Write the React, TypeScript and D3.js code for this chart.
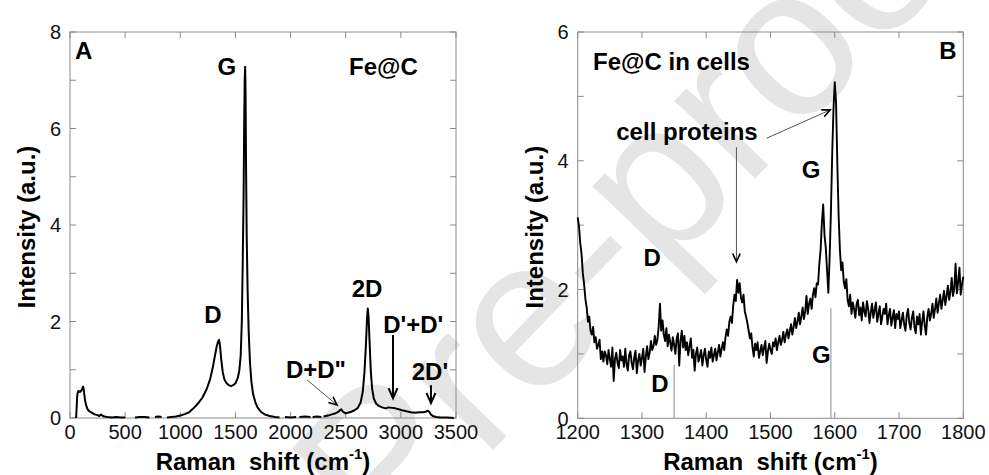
import React from "react";
import * as d3 from "d3";

// ---------- Data ----------
// Panel A: Fe@C Raman spectrum (x: Raman shift cm-1, y: intensity); null = gap in trace
const specA: [number, number | null][] = [
  [55, 0], [60, 0.2], [65, 0.45], [72, 0.55], [80, 0.56], [90, 0.54], [100, 0.56], [110, 0.6], [118, 0.65],
  [124, 0.6], [130, 0.48], [138, 0.35], [148, 0.25], [160, 0.18], [175, 0.14], [190, 0.12], [210, 0.09],
  [230, 0.07], [250, 0.06], [265, 0.04], [280, 0.07], [295, 0.05], [310, 0.03], [340, 0.02], [380, 0.01],
  [420, 0.02], [460, 0.01], [500, 0.01], [540, null],
  [590, 0.01], [630, 0.02], [680, 0.02], [720, 0.01], [745, null],
  [770, 0.02], [800, 0.03], [830, 0.02], [850, null],
  [880, 0.01], [920, 0.02], [960, 0.03], [1000, 0.05], [1040, 0.08], [1080, 0.12], [1120, 0.2], [1160, 0.3],
  [1200, 0.42], [1240, 0.6], [1270, 0.8], [1295, 1.05], [1315, 1.3], [1330, 1.48], [1345, 1.6], [1352, 1.62],
  [1360, 1.5], [1372, 1.2], [1385, 0.95], [1400, 0.8], [1420, 0.72], [1440, 0.68], [1460, 0.66], [1480, 0.68],
  [1500, 0.72], [1520, 0.82], [1535, 0.98], [1548, 1.3], [1558, 2.0], [1566, 3.2], [1574, 4.6], [1580, 6.2],
  [1584, 7.0], [1588, 7.28], [1592, 6.7], [1596, 5.3], [1602, 3.8], [1610, 2.7], [1620, 1.8], [1632, 1.15],
  [1645, 0.75], [1660, 0.5], [1680, 0.33], [1700, 0.22], [1730, 0.13], [1770, 0.07], [1810, 0.04], [1860, 0.02],
  [1900, 0.01], [1925, null],
  [1950, 0.02], [2000, 0.01], [2050, 0.02], [2065, null],
  [2080, 0.02], [2130, 0.03], [2180, 0.02], [2190, null],
  [2200, 0.02], [2240, 0.03], [2280, 0.02], [2290, null],
  [2300, 0.03], [2340, 0.05], [2380, 0.08], [2410, 0.1], [2435, 0.13], [2450, 0.17], [2460, 0.18], [2475, 0.13],
  [2495, 0.1], [2520, 0.11], [2550, 0.13], [2580, 0.16], [2610, 0.21], [2635, 0.32], [2655, 0.55], [2670, 0.95],
  [2683, 1.5], [2693, 2.05], [2700, 2.27], [2707, 2.1], [2716, 1.6], [2728, 0.95], [2740, 0.6], [2755, 0.4],
  [2775, 0.3], [2800, 0.25], [2830, 0.22], [2860, 0.2], [2890, 0.22], [2920, 0.21], [2950, 0.2], [2980, 0.18],
  [3010, 0.16], [3050, 0.14], [3090, 0.12], [3130, 0.11], [3170, 0.12], [3200, 0.12], [3225, 0.13], [3245, 0.15],
  [3258, 0.13], [3270, 0.08], [3290, 0.04], [3320, 0.02], [3360, 0.01], [3420, 0.01], [3480, 0.0],
];

// Panel B: Fe@C in cells Raman spectrum (noisy)
const specB: [number, number][] = [
  [1200, 3.12], [1202, 2.98], [1204, 2.72], [1206, 2.55], [1208, 2.25], [1210, 2.08], [1212, 1.85], [1214, 1.72],
  [1216, 1.5], [1218, 1.58], [1220, 1.36], [1222, 1.3], [1224, 1.42], [1226, 1.18], [1228, 1.26], [1230, 1.08],
  [1232, 1.14], [1234, 1.22], [1236, 0.92], [1238, 1.04], [1240, 0.88], [1242, 1.04], [1244, 0.98], [1246, 0.84],
  [1248, 1.06], [1250, 0.92], [1252, 0.8], [1254, 1.1], [1256, 0.58], [1258, 0.92], [1260, 1.02], [1262, 0.86],
  [1264, 0.78], [1266, 1.06], [1268, 0.9], [1270, 0.96], [1272, 0.8], [1274, 1.08], [1276, 0.84], [1278, 0.74],
  [1280, 0.98], [1282, 1.04], [1284, 0.86], [1286, 0.76], [1288, 0.95], [1290, 1.05], [1292, 0.7], [1294, 0.9],
  [1296, 1.0], [1298, 0.82], [1300, 0.94], [1302, 1.08], [1304, 0.72], [1306, 0.96], [1308, 1.12], [1310, 0.92],
  [1312, 1.02], [1314, 1.2], [1316, 1.06], [1318, 1.12], [1320, 1.28], [1322, 1.14], [1324, 1.22], [1326, 1.42],
  [1328, 1.78], [1330, 1.36], [1332, 1.52], [1334, 1.3], [1336, 1.2], [1338, 1.4], [1340, 1.12], [1342, 1.3],
  [1344, 1.18], [1346, 1.05], [1348, 1.26], [1350, 1.14], [1352, 1.0], [1354, 1.24], [1356, 1.32], [1358, 0.82],
  [1360, 1.2], [1362, 1.36], [1364, 1.1], [1366, 1.28], [1368, 1.06], [1370, 1.18], [1372, 0.98], [1374, 1.12],
  [1376, 1.24], [1378, 0.94], [1380, 1.06], [1382, 0.74], [1384, 1.0], [1386, 1.1], [1388, 0.88], [1390, 0.96],
  [1392, 1.06], [1394, 0.82], [1396, 0.98], [1398, 1.08], [1400, 0.9], [1402, 0.8], [1404, 1.04], [1406, 0.94],
  [1408, 1.1], [1410, 0.88], [1412, 0.98], [1414, 1.08], [1416, 0.9], [1418, 1.02], [1420, 1.14], [1422, 0.96],
  [1424, 1.08], [1426, 1.18], [1428, 1.06], [1430, 1.26], [1432, 1.38], [1434, 1.28], [1436, 1.5], [1438, 1.58],
  [1440, 1.48], [1442, 1.75], [1444, 1.92], [1446, 1.82], [1448, 2.15], [1450, 1.95], [1452, 2.1], [1454, 1.88],
  [1456, 1.8], [1458, 1.92], [1460, 1.66], [1462, 1.58], [1464, 1.48], [1466, 1.36], [1468, 1.24], [1470, 1.32],
  [1472, 1.1], [1474, 0.96], [1476, 1.16], [1478, 1.06], [1480, 1.18], [1482, 0.94], [1484, 1.04], [1486, 1.14],
  [1488, 0.98], [1490, 1.1], [1492, 1.2], [1494, 0.86], [1496, 1.04], [1498, 1.16], [1500, 1.06], [1502, 1.0],
  [1504, 1.18], [1506, 1.12], [1508, 1.24], [1510, 1.06], [1512, 1.18], [1514, 1.28], [1516, 1.14], [1518, 1.22],
  [1520, 1.34], [1522, 1.18], [1524, 1.3], [1526, 1.38], [1528, 1.24], [1530, 1.36], [1532, 1.46], [1534, 1.3],
  [1536, 1.42], [1538, 1.56], [1540, 1.4], [1542, 1.5], [1544, 1.64], [1546, 1.46], [1548, 1.58], [1550, 1.72],
  [1552, 1.54], [1554, 1.66], [1556, 1.9], [1558, 1.62], [1560, 1.78], [1562, 1.86], [1564, 1.7], [1566, 1.92],
  [1568, 2.02], [1570, 1.88], [1572, 2.1], [1574, 2.08], [1576, 2.4], [1578, 2.62], [1580, 3.05], [1582, 3.32],
  [1584, 2.85], [1586, 2.65], [1588, 2.3], [1590, 1.95], [1592, 2.5], [1594, 3.2], [1596, 4.1], [1598, 4.8],
  [1600, 5.22], [1602, 4.9], [1604, 3.95], [1606, 3.15], [1608, 2.62], [1610, 2.3], [1612, 2.42], [1614, 2.12],
  [1616, 2.02], [1618, 2.16], [1620, 1.84], [1622, 1.74], [1624, 1.92], [1626, 1.62], [1628, 1.8], [1630, 1.7],
  [1632, 1.56], [1634, 1.78], [1636, 1.84], [1638, 1.6], [1640, 1.72], [1642, 1.52], [1644, 1.8], [1646, 1.66],
  [1648, 1.58], [1650, 1.82], [1652, 1.7], [1654, 1.48], [1656, 1.64], [1658, 1.78], [1660, 1.56], [1662, 1.68],
  [1664, 1.8], [1666, 1.5], [1668, 1.62], [1670, 1.74], [1672, 1.46], [1674, 1.58], [1676, 1.7], [1678, 1.62],
  [1680, 1.78], [1682, 1.46], [1684, 1.6], [1686, 1.7], [1688, 1.44], [1690, 1.56], [1692, 1.68], [1694, 1.4],
  [1696, 1.62], [1698, 1.54], [1700, 1.66], [1702, 1.4], [1704, 1.52], [1706, 1.64], [1708, 1.46], [1710, 1.36],
  [1712, 1.6], [1714, 1.7], [1716, 1.48], [1718, 1.38], [1720, 1.56], [1722, 1.66], [1724, 1.42], [1726, 1.32],
  [1728, 1.58], [1730, 1.46], [1732, 1.62], [1734, 1.3], [1736, 1.5], [1738, 1.66], [1740, 1.44], [1742, 1.3],
  [1744, 1.58], [1746, 1.7], [1748, 1.52], [1750, 1.62], [1752, 1.78], [1754, 1.56], [1756, 1.7], [1758, 1.86],
  [1760, 1.64], [1762, 1.78], [1764, 1.92], [1766, 1.7], [1768, 1.84], [1770, 1.98], [1772, 1.76], [1774, 1.9],
  [1776, 2.06], [1778, 1.84], [1780, 1.96], [1782, 2.18], [1784, 1.9], [1786, 2.02], [1788, 2.4], [1790, 1.94],
  [1792, 2.12], [1794, 2.34], [1796, 1.92], [1798, 2.08], [1800, 2.2],
];

// Axis ticks
const xTicksA = [0, 500, 1000, 1500, 2000, 2500, 3000, 3500];
const yTicksA = [0, 1, 2, 3, 4, 5, 6, 7, 8];
const yLabelsA = [0, 2, 4, 6, 8];
const xTicksB = [1200, 1300, 1400, 1500, 1600, 1700, 1800];
const yTicksB = [0, 1, 2, 3, 4, 5, 6];
const yLabelsB = [0, 2, 4, 6];

// Annotations (data coordinates)
type Lbl = { t: string; x: number; y: number; a: "start" | "middle" };
const labelsA: Lbl[] = [
  { t: "A", x: 45, y: 7.44, a: "start" },
  { t: "G", x: 1423, y: 7.11, a: "middle" },
  { t: "Fe@C", x: 2530, y: 7.11, a: "start" },
  { t: "D", x: 1297, y: 1.97, a: "middle" },
  { t: "2D", x: 2693, y: 2.51, a: "middle" },
  { t: "D'+D'", x: 3112, y: 1.76, a: "middle" },
  { t: "D+D\"", x: 2230, y: 0.83, a: "middle" },
  { t: "2D'", x: 3264, y: 0.79, a: "middle" },
];
const labelsB: Lbl[] = [
  { t: "Fe@C in cells", x: 1224, y: 5.41, a: "start" },
  { t: "B", x: 1776, y: 5.58, a: "middle" },
  { t: "cell proteins", x: 1370, y: 4.33, a: "middle" },
  { t: "G", x: 1563, y: 3.73, a: "middle" },
  { t: "D", x: 1316, y: 2.37, a: "middle" },
  { t: "D", x: 1328, y: 0.41, a: "middle" },
  { t: "G", x: 1579, y: 0.86, a: "middle" },
];
type Arr = { x1: number; y1: number; x2: number; y2: number; dark: boolean };
const arrowsA: Arr[] = [
  { x1: 2929, y1: 1.72, x2: 2929, y2: 0.41, dark: true },
  { x1: 3273, y1: 0.68, x2: 3273, y2: 0.31, dark: true },
  { x1: 2149, y1: 0.79, x2: 2421, y2: 0.27, dark: false },
];
const arrowsB: Arr[] = [
  { x1: 1447, y1: 4.21, x2: 1447, y2: 2.43, dark: false },
  { x1: 1494, y1: 4.35, x2: 1593, y2: 4.79, dark: false },
];
const refLinesB = [
  { x: 1350, y0: 0, y1: 0.83 },
  { x: 1594, y0: 0, y1: 1.71 },
];

const FONT = "'Liberation Sans', Arial, Helvetica, sans-serif";
const FRAME = "#8a8a8a";

type PanelProps = {
  data: [number, number | null][];
  xDomain: [number, number];
  yDomain: [number, number];
  left: number; right: number; top: number; bottom: number;
  xTicks: number[]; yTicks: number[]; yLabels: number[];
  labels: Lbl[]; arrows: Arr[];
  refLines?: { x: number; y0: number; y1: number }[];
  lineWidth: number;
  yTitleX: number;
};

function Arrow({ x1, y1, x2, y2, dark }: { x1: number; y1: number; x2: number; y2: number; dark: boolean }) {
  const ang = Math.atan2(y2 - y1, x2 - x1);
  const L = dark ? 11 : 9;
  const spread = 0.42;
  const ax = x2 - L * Math.cos(ang - spread), ay = y2 - L * Math.sin(ang - spread);
  const bx = x2 - L * Math.cos(ang + spread), by = y2 - L * Math.sin(ang + spread);
  return (
    <g>
      <line x1={x1} y1={y1} x2={x2} y2={y2} stroke={dark ? "#000" : "#555"} strokeWidth={dark ? 2 : 1} />
      <path d={`M${ax},${ay}L${x2},${y2}L${bx},${by}`} fill="none" stroke="#000" strokeWidth={dark ? 2 : 1.6} />
    </g>
  );
}

function Panel(p: PanelProps) {
  const x = d3.scaleLinear().domain(p.xDomain).range([p.left, p.right]);
  const y = d3.scaleLinear().domain(p.yDomain).range([p.bottom, p.top]);
  const line = d3
    .line<[number, number | null]>()
    .defined((d) => d[1] !== null)
    .x((d) => x(d[0]))
    .y((d) => y(d[1] as number));
  const tl = 6;
  const cx = (p.left + p.right) / 2;
  const cy = (p.top + p.bottom) / 2;
  return (
    <g>
      {p.xTicks.map((t) => (
        <g key={"xt" + t}>
          <line x1={x(t)} x2={x(t)} y1={p.bottom} y2={p.bottom - tl} stroke={FRAME} />
          <line x1={x(t)} x2={x(t)} y1={p.top} y2={p.top + tl} stroke={FRAME} />
          <text x={x(t)} y={p.bottom + 21} textAnchor="middle" fontSize={20} fontFamily={FONT} fill="#111">
            {t}
          </text>
        </g>
      ))}
      {p.yTicks.map((t) => (
        <g key={"yt" + t}>
          <line x1={p.left} x2={p.left + tl} y1={y(t)} y2={y(t)} stroke={FRAME} />
          <line x1={p.right} x2={p.right - tl} y1={y(t)} y2={y(t)} stroke={FRAME} />
        </g>
      ))}
      {p.yLabels.map((t) => (
        <text key={"yl" + t} x={p.left - 9} y={y(t)} dy="0.36em" textAnchor="end" fontSize={20} fontFamily={FONT} fill="#111">
          {t}
        </text>
      ))}
      <rect x={p.left} y={p.top} width={p.right - p.left} height={p.bottom - p.top} fill="none" stroke={FRAME} strokeWidth={1} />
      {(p.refLines || []).map((r, i) => (
        <line key={"rl" + i} x1={x(r.x)} x2={x(r.x)} y1={y(r.y0)} y2={y(r.y1)} stroke="#8a8a8a" strokeWidth={1} />
      ))}
      <path d={line(p.data) || ""} fill="none" stroke="#000" strokeWidth={p.lineWidth} strokeLinejoin="round" />
      {p.arrows.map((a, i) => (
        <Arrow key={"ar" + i} x1={x(a.x1)} y1={y(a.y1)} x2={x(a.x2)} y2={y(a.y2)} dark={a.dark} />
      ))}
      {p.labels.map((l, i) => (
        <text key={"lb" + i} x={x(l.x)} y={y(l.y)} textAnchor={l.a} fontSize={24} fontWeight="bold" fontFamily={FONT} fill="#000">
          {l.t}
        </text>
      ))}
      <text x={cx} y={470} textAnchor="middle" fontSize={24} fontWeight="bold" fontFamily={FONT} style={{ whiteSpace: "pre" }}>
        {"Raman  shift (cm"}
        <tspan fontSize={15} dy={-11}>-1</tspan>
        <tspan dy={11}>)</tspan>
      </text>
      <text transform={`translate(${p.yTitleX},${cy + 2}) rotate(-90)`} textAnchor="middle" fontSize={24} fontWeight="bold" fontFamily={FONT}>
        Intensity (a.u.)
      </text>
    </g>
  );
}

export default function App() {
  return (
    <svg width={989} height={475} style={{ position: "absolute", left: 0, top: 0, background: "#fff" }}>
      <rect x={0} y={0} width={989} height={475} fill="#fff" />
      <text transform="translate(385,562) rotate(-46)" fontSize={212} fontFamily={FONT} fill="#e5e5e5">
        Pre-proof
      </text>
      <Panel
        data={specA}
        xDomain={[0, 3500]}
        yDomain={[0, 8]}
        left={70}
        right={456}
        top={32}
        bottom={418}
        xTicks={xTicksA}
        yTicks={yTicksA}
        yLabels={yLabelsA}
        labels={labelsA}
        arrows={arrowsA}
        lineWidth={2}
        yTitleX={35}
      />
      <Panel
        data={specB}
        xDomain={[1200, 1800]}
        yDomain={[0, 6]}
        left={577.7}
        right={963.3}
        top={32}
        bottom={418.3}
        xTicks={xTicksB}
        yTicks={yTicksB}
        yLabels={yLabelsB}
        labels={labelsB}
        arrows={arrowsB}
        refLines={refLinesB}
        lineWidth={1.9}
        yTitleX={543}
      />
    </svg>
  );
}
